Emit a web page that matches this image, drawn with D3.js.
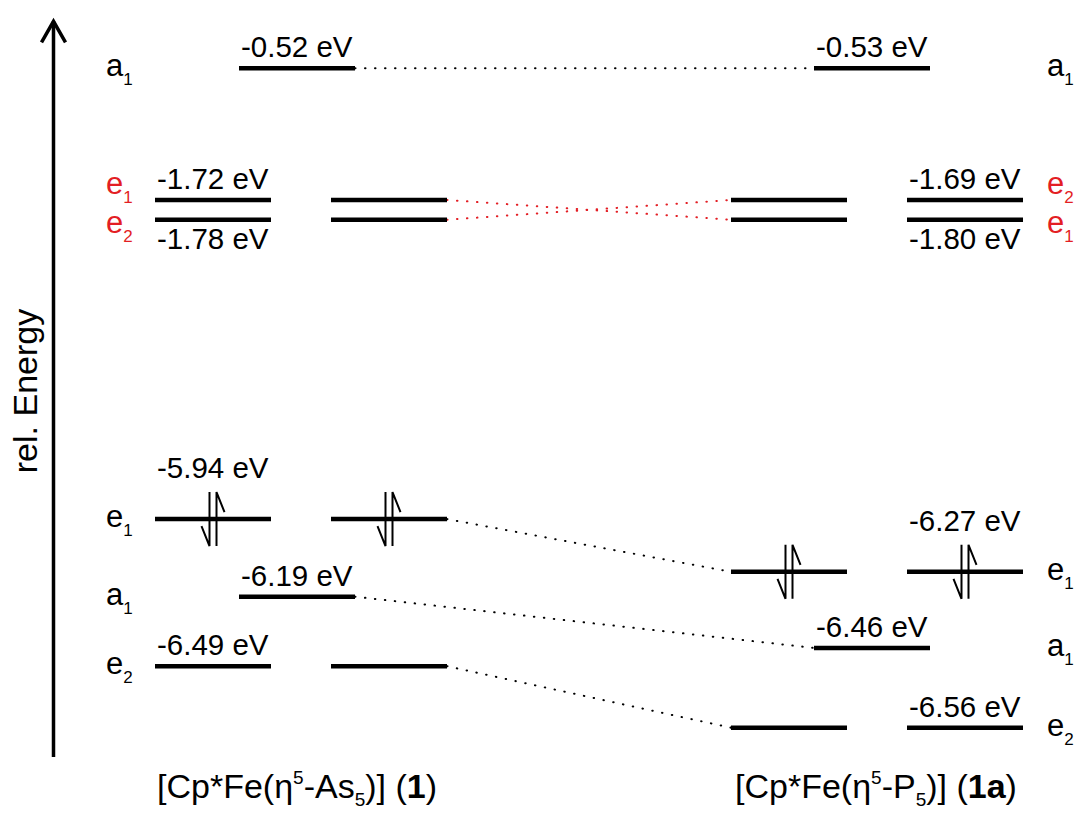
<!DOCTYPE html>
<html>
<head>
<meta charset="utf-8">
<script src="https://cdn.jsdelivr.net/npm/d3@7"></script>
<style>
  body { margin: 0; background: #fff; }
  text { font-family: 'Liberation Sans', Arial, sans-serif; fill: #000; }
  .level { stroke: #000; stroke-width: 4.5; }
  .corr { fill: none; stroke-width: 2; stroke-dasharray: 0.5 9.5; stroke-linecap: round; }
  .electron { stroke: #000; stroke-width: 2; fill: none; }
  .axis-line { stroke: #000; stroke-width: 3.5; fill: none; }
  .energy { font-size: 29.5px; }
  .sym { font-size: 31px; }
  .compound { font-size: 34px; }
  .axis-title { font-size: 34px; }
</style>
</head>
<body>
<script>
const width = 1078, height = 814;
const red = '#e31e24';

// [Cp*Fe(η5-As5)] (1)
const asEnergy = [-0.52, -1.72, -1.78, -5.94, -6.19, -6.49];
const asSym = ['a1', 'e1', 'e2', 'e1', 'a1', 'e2'];
const asDrawn = [9.41, 7.61, 7.34, 3.25, 2.19, 1.24];   // schematic height as drawn
const asElectrons = [0, 0, 0, 4, 0, 0];
const asLabelSide = ['above', 'above', 'below', 'above', 'above', 'above'];

// [Cp*Fe(η5-P5)] (1a)
const pEnergy = [-0.53, -1.69, -1.80, -6.27, -6.46, -6.56];
const pSym = ['a1', 'e2', 'e1', 'e1', 'a1', 'e2'];
const pDrawn = [9.41, 7.61, 7.34, 2.53, 1.49, 0.40];
const pElectrons = [0, 0, 0, 4, 0, 0];
const pLabelSide = ['above', 'above', 'below', 'above', 'above', 'above'];

const slots = ['As5-outer', 'As5-a', 'As5-inner', 'P5-inner', 'P5-a', 'P5-outer'];

function build(key, energy, sym, drawn, electrons, side) {
  // occurrence index per symmetry label, used to correlate levels
  const seen = {};
  return energy.map((e, i) => {
    seen[sym[i]] = (seen[sym[i]] || 0) + 1;
    return { key, energy: e, sym: sym[i], drawn: drawn[i], electrons: electrons[i],
             side: side[i], occ: seen[sym[i]], degenerate: sym[i][0] === 'e' };
  });
}
const left = build('As5', asEnergy, asSym, asDrawn, asElectrons, asLabelSide);
const right = build('P5', pEnergy, pSym, pDrawn, pElectrons, pLabelSide);

const y = d3.scaleLinear().domain([0, 10]).range([757, 25]);
const x = d3.scaleOrdinal().domain(slots).range([213, 297, 389, 789, 872, 965]);
const halfW = 58;

// correlation pairs
const pairs = left.map(l => ({ l, r: right.find(r => r.sym === l.sym && r.occ === l.occ) }));
pairs.forEach(p => {
  p.cross = pairs.some(q => q !== p && (p.l.drawn - q.l.drawn) * (p.r.drawn - q.r.drawn) < 0);
  p.l.cross = p.r.cross = p.cross;
});

const svg = d3.select('body').append('svg')
  .attr('width', width)
  .attr('height', height);

// energy axis arrow
const axisX = 53.5;
svg.append('line').attr('class', 'axis-line')
  .attr('x1', axisX).attr('x2', axisX)
  .attr('y1', y(0)).attr('y2', y(10.05));
svg.append('path').attr('class', 'axis-line')
  .attr('d', `M${axisX - 12},${y(10.05) + 21}L${axisX},${y(10.05)}L${axisX + 12},${y(10.05) + 21}`);
svg.append('text').attr('class', 'axis-title')
  .attr('transform', `translate(37,${y(5)}) rotate(-90)`)
  .attr('text-anchor', 'middle')
  .text('rel. Energy');

function lineSlots(d) {
  return d.degenerate ? [`${d.key}-outer`, `${d.key}-inner`] : [`${d.key}-a`];
}

// correlation lines
svg.append('g').selectAll('line')
  .data(pairs)
  .join('line')
  .attr('class', 'corr')
  .attr('stroke', d => d.cross ? red : '#000')
  .attr('x1', d => x(d.l.degenerate ? 'As5-inner' : 'As5-a') + halfW)
  .attr('y1', d => y(d.l.drawn))
  .attr('x2', d => x(d.r.degenerate ? 'P5-inner' : 'P5-a') - halfW)
  .attr('y2', d => y(d.r.drawn));

const levels = left.concat(right);
const segs = levels.flatMap(d => lineSlots(d).map(s => ({ d, slot: s })));

svg.append('g').selectAll('line')
  .data(segs)
  .join('line')
  .attr('class', 'level')
  .attr('x1', s => x(s.slot) - halfW)
  .attr('x2', s => x(s.slot) + halfW)
  .attr('y1', s => y(s.d.drawn))
  .attr('y2', s => y(s.d.drawn));

// electron pairs (half arrows)
const arrowLen = 27;
const elec = svg.append('g').selectAll('g')
  .data(segs.filter(s => s.d.electrons > 0))
  .join('g')
  .attr('transform', s => `translate(${x(s.slot)},${y(s.d.drawn)})`);
elec.append('path').attr('class', 'electron')
  .attr('d', `M-3.5,${-arrowLen}V${arrowLen}l-8,-20`);
elec.append('path').attr('class', 'electron')
  .attr('d', `M3.5,${arrowLen}V${-arrowLen}l8,20`);

// energy values
svg.append('g').selectAll('text')
  .data(levels)
  .join('text')
  .attr('class', 'energy')
  .attr('x', d => x(lineSlots(d)[0]) - halfW + 2)
  .attr('y', d => y(d.drawn) + (d.side === 'below' ? 29 : (d.electrons > 0 ? -41 : -11)))
  .text(d => `${d.energy.toFixed(2)} eV`);

// symmetry labels
const sym = svg.append('g').selectAll('text')
  .data(levels)
  .join('text')
  .attr('class', 'sym')
  .attr('x', d => d.key === 'As5' ? 106 : 1047)
  .attr('y', d => y(d.drawn) + (d.cross ? (d.side === 'below' ? 13 : -6) : 8))
  .style('fill', d => d.cross ? red : '#000');
sym.append('tspan').text(d => d.sym[0]);
sym.append('tspan').attr('dy', 9).attr('font-size', 17).text(d => d.sym.slice(1));

// compound names
const names = [
  { x: 157, parts: [['[Cp*Fe(η', 0], ['5', 'sup'], ['-As', 0], ['5', 'sub'], [')] (', 0], ['1', 'b'], [')', 0]] },
  { x: 735, parts: [['[Cp*Fe(η', 0], ['5', 'sup'], ['-P', 0], ['5', 'sub'], [')] (', 0], ['1a', 'b'], [')', 0]] }
];
const nm = svg.append('g').selectAll('text')
  .data(names)
  .join('text')
  .attr('class', 'compound')
  .attr('x', d => d.x)
  .attr('y', 798);
nm.each(function(d) {
  const t = d3.select(this);
  let shift = 0;
  d.parts.forEach(([txt, kind]) => {
    const target = kind === 'sup' ? -14 : kind === 'sub' ? 8 : 0;
    const sp = t.append('tspan').attr('dy', target - shift).text(txt);
    shift = target;
    if (kind === 'sup' || kind === 'sub') sp.attr('font-size', 19);
    if (kind === 'b') sp.attr('font-weight', 'bold');
  });
});
</script>
</body>
</html>
